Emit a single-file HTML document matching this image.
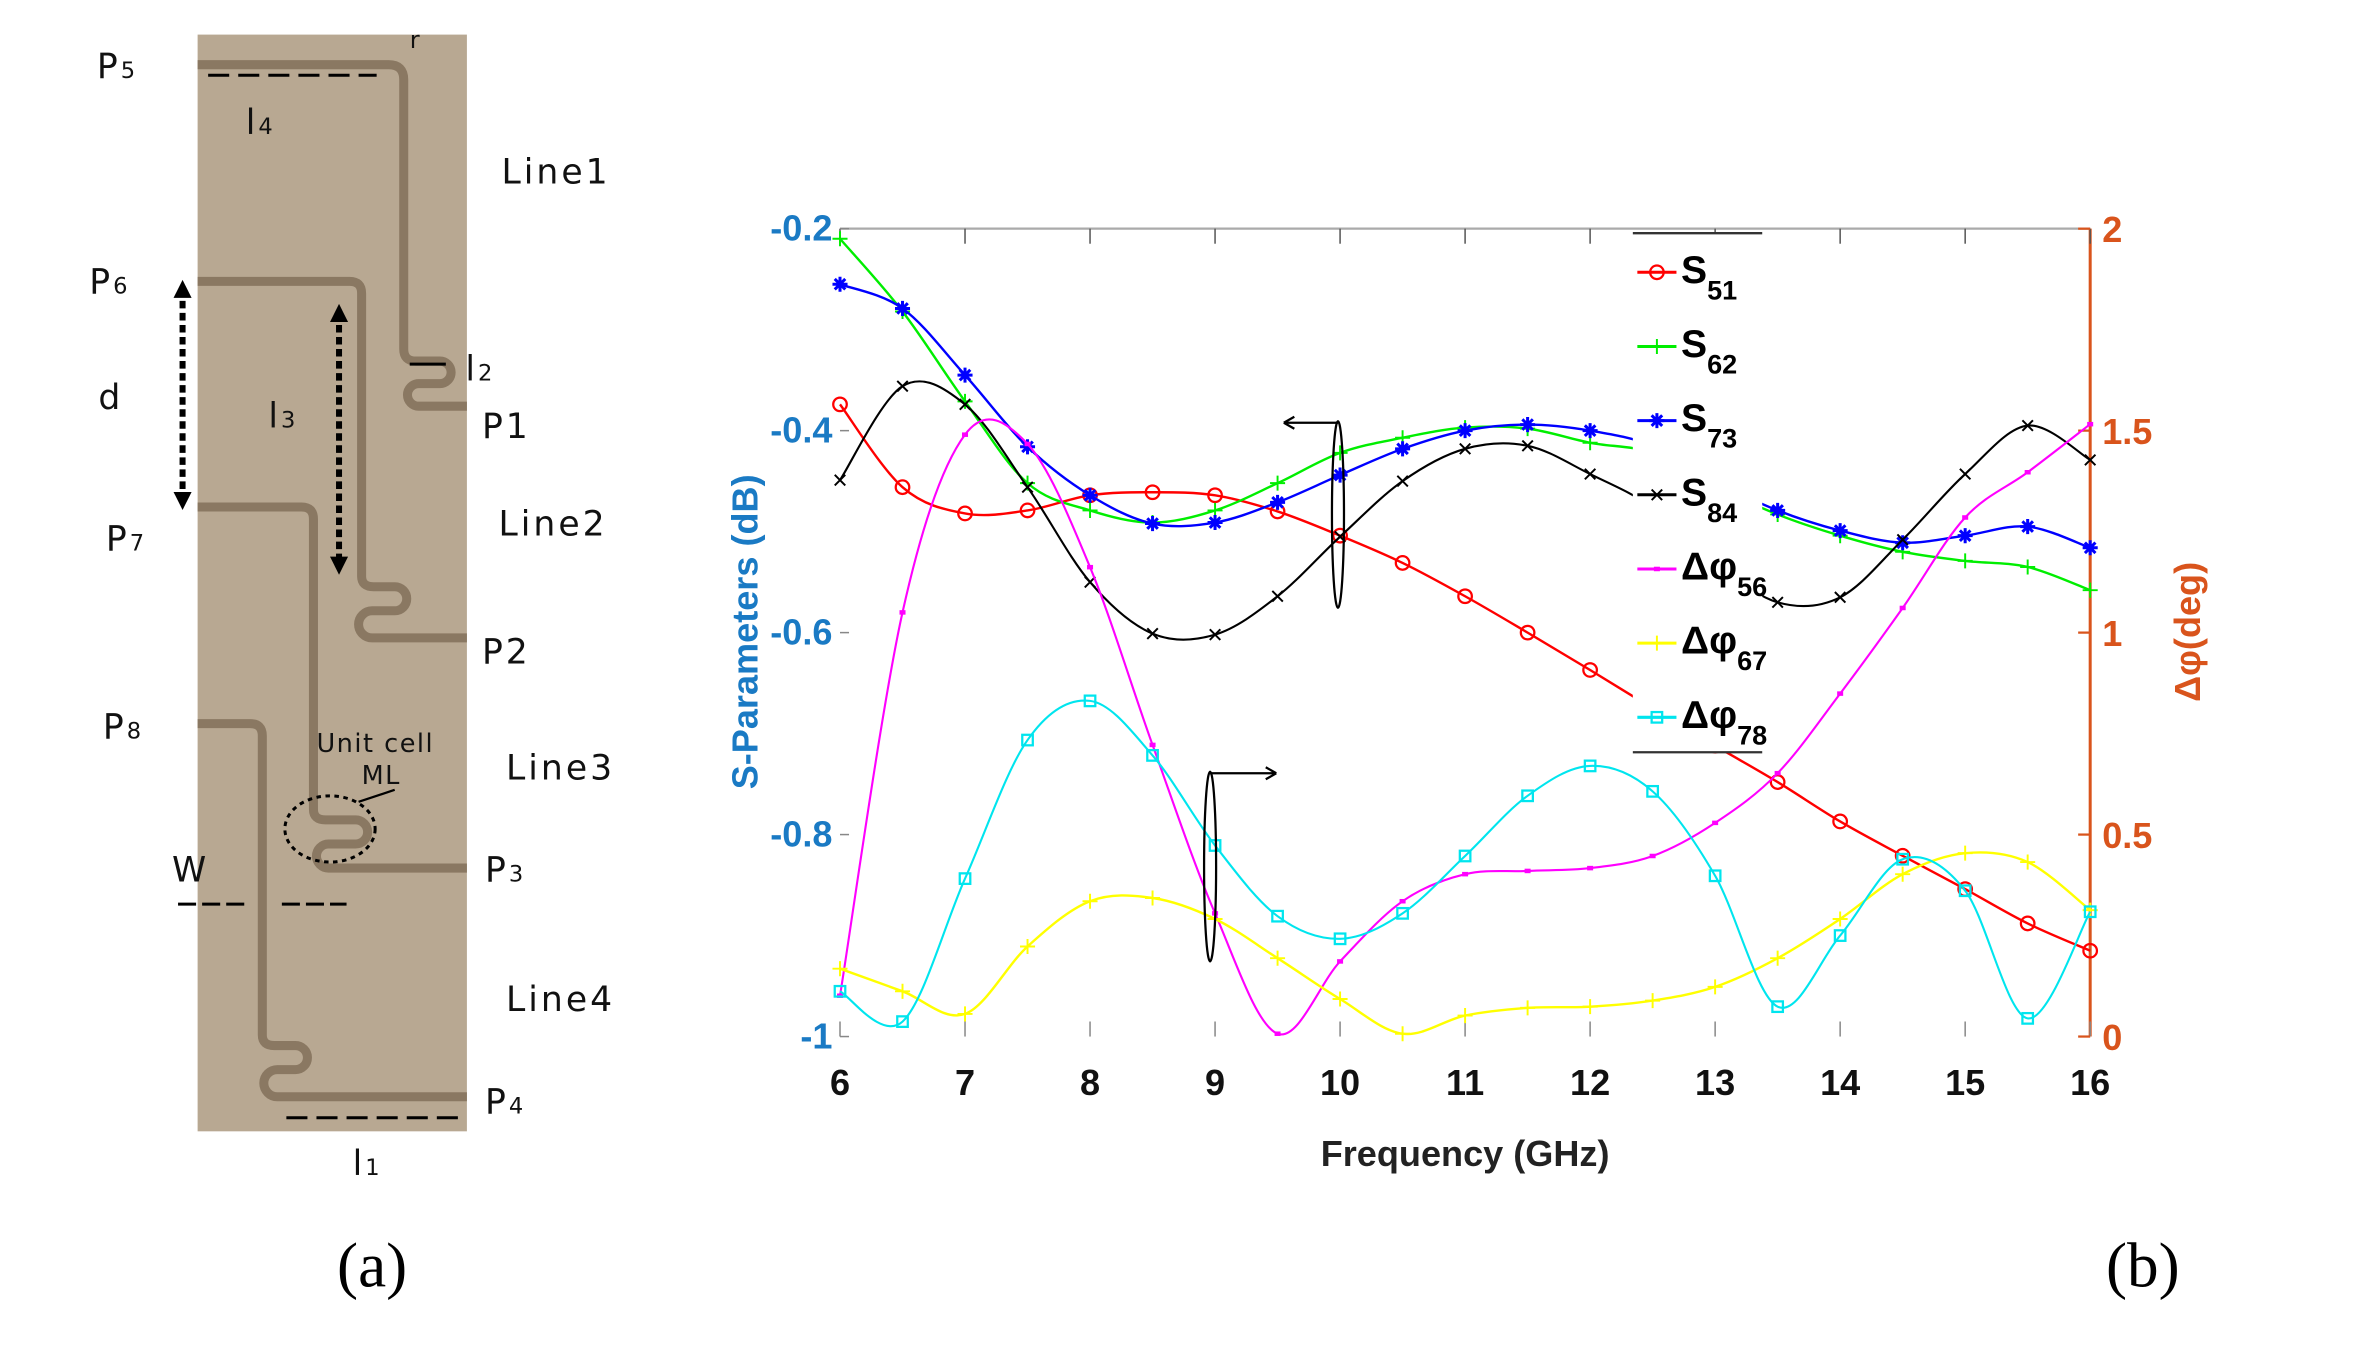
<!DOCTYPE html>
<html><head><meta charset="utf-8"><style>
html,body{margin:0;padding:0;background:#fff;width:2357px;height:1360px;overflow:hidden}
svg{display:block}
.pa{font-family:"DejaVu Sans","Liberation Sans",sans-serif;font-size:23px;letter-spacing:2px;fill:#111}
.tk{font-family:"Liberation Sans Narrow","Liberation Sans",sans-serif;font-weight:bold;font-size:24px}
.lg{font-family:"Liberation Sans Narrow","Liberation Sans",sans-serif;font-weight:bold;font-size:26px;fill:#000}
</style></head><body>
<svg id="root" width="2357" height="1360" viewBox="0 0 1566 904" xmlns="http://www.w3.org/2000/svg">
<g>
<rect x="131" y="23" width="179" height="729" fill="#b8a892"/>
<g fill="none" stroke="#8a7862" stroke-width="6">
<path d="M131,43 H258 Q268,43 268,53 V232 Q268,240 276,240 H292 A7.5,7.5 0 0 1 292,255 H278 A7.5,7.5 0 0 0 278,270 H310"/>
<path d="M131,187 H232 Q240,187 240,195 V383 Q240,390 248,390 H262 A8,8 0 0 1 262,406 H247 A9,9 0 0 0 247,424 H310"/>
<path d="M131,337 H200 Q208,337 208,345 V538 Q208,545 216,545 H236 A8,8 0 0 1 236,561 H218 A8,8 0 0 0 218,577 H310"/>
<path d="M131,481 H166 Q174,481 174,489 V688 Q174,695 182,695 H196 A8,8 0 0 1 196,711 H184 A9,9 0 0 0 184,729 H310"/>
</g>
<g stroke="#000" fill="none">
<line x1="121" y1="192" x2="121" y2="333" stroke-width="4" stroke-dasharray="5,3"/>
<line x1="225" y1="208" x2="225" y2="376" stroke-width="4" stroke-dasharray="5,3"/>
<line x1="138" y1="50" x2="250" y2="50" stroke-width="2" stroke-dasharray="14,6"/>
<line x1="190" y1="743" x2="305" y2="743" stroke-width="2" stroke-dasharray="14,6"/>
<line x1="118" y1="601" x2="162" y2="601" stroke-width="2" stroke-dasharray="12,4"/>
<line x1="187" y1="601" x2="230" y2="601" stroke-width="2" stroke-dasharray="12,4"/>
<line x1="272" y1="242" x2="296" y2="242" stroke-width="2"/>
<ellipse cx="219" cy="551" rx="30" ry="22" stroke-width="2" stroke-dasharray="3,3"/>
<line x1="238" y1="533" x2="262" y2="525" stroke-width="1.5"/>
</g>
<g fill="#000">
<polygon points="121,186 115,198 127,198"/><polygon points="121,339 115,327 127,327"/>
<polygon points="225,202 219,214 231,214"/><polygon points="225,382 219,370 231,370"/>
</g>
<g class="pa">
<text x="64" y="52">P<tspan font-size="15">5</tspan></text>
<text x="59" y="195">P<tspan font-size="15">6</tspan></text>
<text x="70" y="366">P<tspan font-size="15">7</tspan></text>
<text x="68" y="491">P<tspan font-size="15">8</tspan></text>
<text x="320" y="291">P1</text>
<text x="320" y="441">P2</text>
<text x="322" y="586">P<tspan font-size="15">3</tspan></text>
<text x="322" y="740">P<tspan font-size="15">4</tspan></text>
<text x="333" y="122">Line1</text>
<text x="331" y="356">Line2</text>
<text x="336" y="518">Line3</text>
<text x="336" y="672">Line4</text>
<text x="163" y="89">l<tspan font-size="15">4</tspan></text>
<text x="178" y="284">l<tspan font-size="15">3</tspan></text>
<text x="309" y="253">l<tspan font-size="15">2</tspan></text>
<text x="234" y="781">l<tspan font-size="15">1</tspan></text>
<text x="65" y="272">d</text>
<text x="114" y="586">W</text>
<text x="272" y="32" font-size="16">r</text>
<text x="210" y="500" font-size="17" letter-spacing="1">Unit cell</text>
<text x="240" y="521" font-size="17" letter-spacing="1">ML</text>
</g>
<text x="247" y="855" text-anchor="middle" font-family="Liberation Serif,serif" font-size="42">(a)</text>
</g>
<text x="1424" y="855" text-anchor="middle" font-family="Liberation Serif,serif" font-size="42">(b)</text>
<g id="chart"></g>
</svg>
<script>
const freqs=[6,6.5,7,7.5,8,8.5,9,9.5,10,10.5,11,11.5,12,12.5,13,13.5,14,14.5,15,15.5,16];
const xTicks=[6,7,8,9,10,11,12,13,14,15,16];
const leftTicks=[-0.2,-0.4,-0.6,-0.8,-1];
const leftTickLabels=["-0.2","-0.4","-0.6","-0.8","-1"];
const rightTicks=[2,1.5,1,0.5,0];
const rightTickLabels=["2","1.5","1","0.5","0"];
const s51=[-0.374,-0.456,-0.482,-0.479,-0.464,-0.461,-0.464,-0.480,-0.504,-0.531,-0.564,-0.600,-0.637,-0.675,-0.712,-0.748,-0.787,-0.821,-0.854,-0.888,-0.915];
const s62=[-0.210,-0.282,-0.371,-0.452,-0.479,-0.491,-0.479,-0.452,-0.422,-0.407,-0.397,-0.398,-0.412,-0.422,-0.455,-0.483,-0.504,-0.520,-0.529,-0.535,-0.558];
const s73=[-0.255,-0.279,-0.345,-0.416,-0.464,-0.492,-0.491,-0.471,-0.444,-0.418,-0.400,-0.394,-0.400,-0.415,-0.450,-0.479,-0.499,-0.511,-0.504,-0.495,-0.516];
const s84=[-0.449,-0.356,-0.374,-0.456,-0.550,-0.601,-0.602,-0.564,-0.505,-0.450,-0.418,-0.415,-0.443,-0.476,-0.530,-0.570,-0.565,-0.508,-0.443,-0.395,-0.429];
const dphi56=[0.101,1.050,1.490,1.467,1.162,0.722,0.305,0.007,0.186,0.335,0.402,0.410,0.417,0.447,0.529,0.652,0.849,1.061,1.285,1.397,1.516];
const dphi67=[0.168,0.112,0.056,0.223,0.335,0.343,0.291,0.194,0.093,0.007,0.052,0.071,0.074,0.089,0.123,0.194,0.291,0.402,0.454,0.432,0.313];
const dphi78=[0.112,0.037,0.391,0.734,0.831,0.696,0.473,0.298,0.242,0.305,0.447,0.596,0.670,0.607,0.398,0.074,0.250,0.439,0.361,0.045,0.309];

const L=558,R=1389,T=152,B=689;
const X=v=>L+(v-6)/10*(R-L);
const YL=v=>T+(-0.2-v)/0.8*(B-T);
const YR=v=>B-v/2*(B-T);
const NS='http://www.w3.org/2000/svg';
const chart=document.getElementById('chart');
function mk(tag,attrs,parent){const e=document.createElementNS(NS,tag);for(const k in attrs)e.setAttribute(k,attrs[k]);(parent||chart).appendChild(e);return e;}
function txt(s,attrs,parent){const e=mk('text',attrs,parent);e.textContent=s;return e;}

let e=mk('line',{x1:L,y1:T,x2:R,y2:T,stroke:'#aaa','stroke-width':1.5});


e=mk('line',{x1:R,y1:T,x2:R,y2:B,stroke:'#d9541c','stroke-width':2});


xTicks.forEach(t=>{
  mk('line',{x1:X(t),y1:B,x2:X(t),y2:B-10,stroke:'#888','stroke-width':1});
  mk('line',{x1:X(t),y1:T,x2:X(t),y2:T+10,stroke:'#555','stroke-width':1});
  const l=txt(String(t),{x:X(t),y:B+39,'text-anchor':'middle',class:'tk',fill:'#111'});
  
  
});
leftTicks.forEach((t,i)=>{
  mk('line',{x1:L,y1:YL(t),x2:L+6,y2:YL(t),stroke:'#888','stroke-width':1});
  const l=txt(leftTickLabels[i],{x:L-5,y:YL(t)+8,'text-anchor':'end',class:'tk',fill:'#1a7ac4'});
  
  
});
rightTicks.forEach((t,i)=>{
  mk('line',{x1:R,y1:YR(t),x2:R-8,y2:YR(t),stroke:'#d9541c','stroke-width':1.5});
  const l=txt(rightTickLabels[i],{x:R+8,y:YR(t)+9,'text-anchor':'start',class:'tk',fill:'#d9541c'});
  
  
});
e=txt('Frequency (GHz)',{x:(L+R)/2,y:775,'text-anchor':'middle',class:'tk','font-size':30,fill:'#222'});


e=txt('S-Parameters (dB)',{x:0,y:0,transform:'translate(503,420) rotate(-90)','text-anchor':'middle',class:'tk','font-size':28,fill:'#1a7ac4'});


e=txt('Δφ(deg)',{x:0,y:0,transform:'translate(1462,420) rotate(-90)','text-anchor':'middle',class:'tk','font-size':28,fill:'#d9541c'});



function smooth(pts){
  let d='M'+pts[0][0]+','+pts[0][1];
  for(let i=0;i<pts.length-1;i++){
    const p0=pts[i-1]||pts[i],p1=pts[i],p2=pts[i+1],p3=pts[i+2]||p2;
    const c1=[p1[0]+(p2[0]-p0[0])/6,p1[1]+(p2[1]-p0[1])/6];
    const c2=[p2[0]-(p3[0]-p1[0])/6,p2[1]-(p3[1]-p1[1])/6];
    d+=` C${c1[0]},${c1[1]} ${c2[0]},${c2[1]} ${p2[0]},${p2[1]}`;
  }
  return d;
}
function marker(type,x,y,c,g){
  if(type==='o')mk('circle',{cx:x,cy:y,r:4.5,fill:'none',stroke:c,'stroke-width':1.5},g);
  else if(type==='s')mk('rect',{x:x-3.5,y:y-3.5,width:7,height:7,fill:'none',stroke:c,'stroke-width':1.5},g);
  else if(type==='*'){mk('path',{d:`M${x-5},${y}H${x+5}M${x},${y-5}V${y+5}M${x-3.5},${y-3.5}L${x+3.5},${y+3.5}M${x+3.5},${y-3.5}L${x-3.5},${y+3.5}`,stroke:c,'stroke-width':2},g);}
  else if(type==='x')mk('path',{d:`M${x-3.5},${y-3.5}L${x+3.5},${y+3.5}M${x+3.5},${y-3.5}L${x-3.5},${y+3.5}`,stroke:c,'stroke-width':1.3},g);
  else if(type==='+')mk('path',{d:`M${x-5},${y}H${x+5}M${x},${y-5}V${y+5}`,stroke:c,'stroke-width':1.3},g);
  else if(type==='.')mk('path',{d:`M${x-2},${y}H${x+2}`,stroke:c,'stroke-width':3},g);
}
const series=[
 {name:'series-s51',vals:s51,axis:YL,color:'#ff0000',m:'o',w:1.6},
 {name:'series-s62',vals:s62,axis:YL,color:'#00ee00',m:'+',w:1.6},
 {name:'series-s73',vals:s73,axis:YL,color:'#0000ff',m:'*',w:1.6},
 {name:'series-s84',vals:s84,axis:YL,color:'#000000',m:'x',w:1.4},
 {name:'series-dphi56',vals:dphi56,axis:YR,color:'#ff00ff',m:'.',w:1.4},
 {name:'series-dphi67',vals:dphi67,axis:YR,color:'#ffff00',m:'+',w:1.6},
 {name:'series-dphi78',vals:dphi78,axis:YR,color:'#00e5ee',m:'s',w:1.4}
];
series.forEach(s=>{
  const g=mk('g',{});
  
  
  const pts=freqs.map((f,i)=>[X(f),s.axis(s.vals[i])]);
  mk('path',{d:smooth(pts),fill:'none',stroke:s.color,'stroke-width':s.w},g);
  pts.forEach(p=>marker(s.m,p[0],p[1],s.color,g));
});

const an=mk('g',{fill:'none',stroke:'#000','stroke-width':1.5});


mk('ellipse',{cx:889,cy:342,rx:4,ry:62},an);
mk('path',{d:'M889,281 H853 M853,281 l7,-4 M853,281 l7,4'},an);
mk('ellipse',{cx:804,cy:576,rx:4,ry:63},an);
mk('path',{d:'M804,514 H848 M848,514 l-7,-4 M848,514 l-7,4'},an);

const lg=mk('g',{});


mk('rect',{x:1085,y:155,width:86,height:345,fill:'#fff',stroke:'none'},lg);
mk('line',{x1:1085,y1:155,x2:1171,y2:155,stroke:'#333','stroke-width':1.5},lg);
mk('line',{x1:1085,y1:500,x2:1171,y2:500,stroke:'#333','stroke-width':1.5},lg);
const legendLabels=[['S','51'],['S','62'],['S','73'],['S','84'],['Δφ','56'],['Δφ','67'],['Δφ','78']];
series.forEach((s,i)=>{
  const y=181+i*49.3;
  const g=mk('g',{},lg);
  
  
  mk('line',{x1:1088,y1:y,x2:1114,y2:y,stroke:s.color,'stroke-width':2},g);
  marker(s.m,1101,y,s.color,g);
  const t=txt('',{x:1117,y:y+7,class:'lg'},g);
  const a=document.createElementNS(NS,'tspan');a.textContent=legendLabels[i][0];t.appendChild(a);
  const b=document.createElementNS(NS,'tspan');b.textContent=legendLabels[i][1];b.setAttribute('font-size','18');b.setAttribute('dy','11');t.appendChild(b);
});
</script>
</body></html>
